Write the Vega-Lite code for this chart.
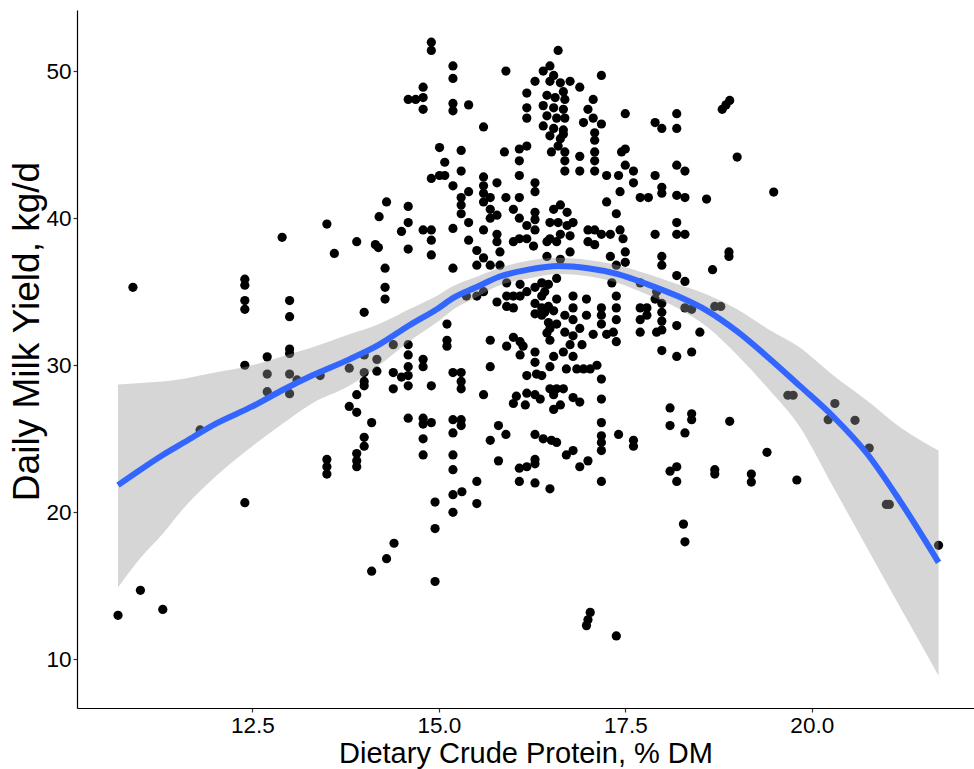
{
 "$schema": "https://vega.github.io/schema/vega-lite/v6.json",
 "width": 897,
 "height": 698,
 "autosize": {"type": "none"},
 "padding": {"left": 77, "top": 10, "right": 0, "bottom": 61},
 "background": "white",
 "config": {
  "view": {"stroke": null},
  "axis": {
   "grid": false,
   "domainColor": "black",
   "domainWidth": 1.2,
   "tickColor": "#333333",
   "tickSize": 4,
   "tickWidth": 1.2,
   "labelFont": "Liberation Sans",
   "labelFontSize": 22.5,
   "labelColor": "black",
   "labelFlush": false,
   "labelPadding": 2,
   "titleFont": "Liberation Sans",
   "titleFontWeight": "normal",
   "titleColor": "black"
  }
 },
 "datasets": {
  "pts": [
   {"x":10.90,"y":35.3},{"x":12.40,"y":35.85},{"x":12.40,"y":35.44},{"x":12.40,"y":34.4},{"x":12.40,"y":33.8},{"x":12.40,"y":30.0},{"x":12.40,"y":20.66},
   {"x":13.0,"y":34.4},{"x":13.0,"y":33.3},{"x":13.0,"y":31.1},{"x":13.0,"y":30.8},{"x":12.70,"y":30.57},{"x":12.70,"y":29.4},{"x":12.70,"y":28.2},{"x":13.0,"y":29.4},{"x":13.0,"y":28.07},{"x":13.1,"y":29.0},{"x":13.41,"y":29.3},{"x":11.80,"y":25.6},{"x":11.0,"y":14.7},{"x":11.30,"y":13.4},{"x":10.70,"y":13.0},
   {"x":12.90,"y":38.7},{"x":13.50,"y":39.6},{"x":13.60,"y":37.6},{"x":13.90,"y":38.4},{"x":14.15,"y":38.2},{"x":14.19,"y":38.0},{"x":14.2,"y":40.1},{"x":14.28,"y":36.6},{"x":14.28,"y":35.3},{"x":14.28,"y":34.5},{"x":14.0,"y":33.6},{"x":14.3,"y":41.1},{"x":14.50,"y":39.1},{"x":14.39,"y":31.4},{"x":14.0,"y":30.7},{"x":14.17,"y":30.4},{"x":13.80,"y":29.8},{"x":14.0,"y":29.5},{"x":14.0,"y":28.9},{"x":14.0,"y":28.6},{"x":14.17,"y":29.6},{"x":14.39,"y":29.5},{"x":14.39,"y":28.4},{"x":13.90,"y":28.0},{"x":13.80,"y":27.2},{"x":13.90,"y":26.8},{"x":14.1,"y":26.1},{"x":14.0,"y":25.1},{"x":14.0,"y":24.5},{"x":13.90,"y":24.0},{"x":13.90,"y":23.5},{"x":13.90,"y":23.1},{"x":13.50,"y":23.6},{"x":13.50,"y":23.1},{"x":13.50,"y":22.6},{"x":14.40,"y":17.9},{"x":14.30,"y":16.85},{"x":14.1,"y":16.0},
   {"x":14.90,"y":51.96},{"x":14.90,"y":51.40},{"x":15.19,"y":50.35},{"x":15.19,"y":49.5},{"x":15.90,"y":50.0},
   {"x":14.79,"y":48.9},{"x":14.79,"y":48.2},{"x":14.79,"y":47.4},{"x":14.59,"y":48.07},{"x":14.69,"y":48.07},
   {"x":15.19,"y":47.8},{"x":15.19,"y":47.3},{"x":15.40,"y":47.7},{"x":15.60,"y":46.2},
   {"x":15.01,"y":44.8},{"x":15.30,"y":44.6},{"x":15.08,"y":43.8},{"x":15.30,"y":43.2},
   {"x":14.90,"y":42.7},{"x":15.01,"y":42.9},{"x":15.08,"y":42.9},{"x":15.19,"y":42.2},{"x":15.40,"y":41.8},
   {"x":15.30,"y":41.4},{"x":15.30,"y":40.9},{"x":15.30,"y":40.3},{"x":14.59,"y":40.8},{"x":14.59,"y":39.7},
   {"x":14.79,"y":39.2},{"x":14.90,"y":39.2},{"x":14.90,"y":38.5},{"x":14.90,"y":37.5},{"x":14.59,"y":37.9},{"x":15.19,"y":39.3},{"x":15.40,"y":39.7},{"x":15.40,"y":38.5},{"x":15.19,"y":36.6},
   {"x":15.60,"y":42.8},{"x":15.60,"y":42.2},{"x":15.60,"y":41.7},{"x":15.60,"y":41.1},{"x":15.78,"y":42.4},{"x":15.69,"y":41.4},{"x":15.69,"y":40.6},{"x":15.69,"y":40.0},{"x":15.60,"y":39.2},{"x":15.78,"y":40.2},{"x":15.78,"y":38.9},{"x":15.78,"y":38.4},{"x":15.90,"y":41.4},
   {"x":16.08,"y":41.4},{"x":16.00,"y":40.6},{"x":16.08,"y":40.0},{"x":16.08,"y":38.6},{"x":15.88,"y":44.5},{"x":16.08,"y":44.7},{"x":16.08,"y":43.9},{"x":16.08,"y":42.9},{"x":16.18,"y":44.9},{"x":16.29,"y":42.4},{"x":16.29,"y":41.8},
   {"x":16.18,"y":48.5},{"x":16.18,"y":47.5},{"x":16.18,"y":46.8},{"x":16.29,"y":49.3},
   {"x":16.29,"y":40.4},{"x":16.29,"y":39.9},{"x":16.18,"y":39.5},{"x":16.29,"y":39.2},{"x":16.18,"y":38.6},{"x":16.00,"y":38.4},{"x":16.27,"y":38.1},
   {"x":15.51,"y":37.8},{"x":15.60,"y":37.3},{"x":15.82,"y":37.7},{"x":15.51,"y":36.8},{"x":15.69,"y":36.8},{"x":15.82,"y":36.8},
   {"x":15.37,"y":34.7},{"x":15.51,"y":34.7},{"x":15.60,"y":35.0},{"x":15.78,"y":34.3},{"x":15.91,"y":35.6},{"x":15.91,"y":34.7},{"x":15.91,"y":34.0},{"x":16.0,"y":34.7},{"x":16.09,"y":34.7},{"x":16.0,"y":33.9},{"x":16.09,"y":35.5},{"x":16.18,"y":35.0},{"x":16.29,"y":35.3},{"x":16.29,"y":34.2},{"x":16.29,"y":33.5},{"x":16.47,"y":35.5},{"x":16.47,"y":34.0},{"x":16.47,"y":32.9},{"x":16.54,"y":33.7},{"x":16.58,"y":32.8},{"x":16.45,"y":32.2},
   {"x":16.0,"y":31.9},{"x":16.09,"y":31.6},{"x":16.13,"y":31.3},{"x":15.91,"y":31.3},{"x":16.09,"y":30.7},{"x":16.29,"y":30.9},{"x":16.29,"y":30.2},{"x":16.18,"y":29.3},{"x":16.31,"y":29.4},{"x":16.38,"y":29.3},{"x":16.49,"y":29.9},{"x":16.18,"y":28.1},{"x":16.04,"y":27.9},{"x":16.0,"y":27.4},{"x":16.16,"y":27.3},{"x":16.29,"y":28.0},{"x":16.36,"y":27.7},{"x":16.54,"y":28.0},{"x":16.54,"y":27.0},
   {"x":14.59,"y":31.4},{"x":14.59,"y":30.7},{"x":14.59,"y":29.9},{"x":14.59,"y":29.3},{"x":14.59,"y":28.6},{"x":14.50,"y":29.2},{"x":14.79,"y":30.4},{"x":14.79,"y":29.9},{"x":14.90,"y":28.6},
   {"x":15.11,"y":32.8},{"x":15.11,"y":31.7},{"x":15.11,"y":31.3},{"x":15.19,"y":29.5},{"x":15.30,"y":29.5},{"x":15.30,"y":28.9},{"x":15.30,"y":28.4},
   {"x":14.59,"y":26.4},{"x":14.79,"y":26.4},{"x":14.79,"y":26.0},{"x":14.90,"y":26.1},{"x":14.79,"y":25.0},{"x":14.79,"y":23.9},
   {"x":15.19,"y":26.3},{"x":15.30,"y":26.3},{"x":15.19,"y":25.4},{"x":15.30,"y":25.9},{"x":15.19,"y":23.9},{"x":15.19,"y":22.9},{"x":15.60,"y":28.0},{"x":15.69,"y":31.7},{"x":15.69,"y":29.9},
   {"x":15.80,"y":25.9},{"x":15.90,"y":25.3},{"x":15.69,"y":24.9},{"x":15.80,"y":23.5},{"x":15.51,"y":22.1},{"x":15.51,"y":20.6},{"x":15.31,"y":21.4},{"x":15.19,"y":21.2},{"x":15.19,"y":20.0},
   {"x":14.95,"y":20.7},{"x":14.95,"y":18.9},{"x":14.95,"y":15.3},
   {"x":16.08,"y":23.0},{"x":16.18,"y":23.1},{"x":16.29,"y":23.6},{"x":16.29,"y":23.3},{"x":16.08,"y":22.1},{"x":16.29,"y":22.0},{"x":16.51,"y":24.9},{"x":16.29,"y":25.3},
   {"x":16.60,"y":51.4},
   {"x":16.49,"y":50.35},{"x":16.40,"y":50.0},{"x":16.54,"y":49.7},{"x":16.49,"y":49.3},{"x":16.63,"y":49.2},{"x":16.76,"y":49.3},{"x":16.89,"y":48.9},{"x":16.67,"y":48.6},{"x":16.45,"y":48.35},{"x":16.56,"y":48.2},{"x":16.69,"y":48.07},{"x":16.40,"y":47.65},{"x":16.54,"y":47.5},{"x":16.67,"y":47.4},{"x":16.45,"y":46.96},{"x":16.58,"y":46.8},{"x":16.69,"y":46.8},{"x":16.40,"y":46.27},{"x":16.54,"y":46.1},{"x":16.67,"y":46.0},{"x":16.49,"y":45.6},{"x":16.63,"y":45.4},{"x":16.67,"y":45.7},{"x":16.51,"y":44.5},{"x":16.60,"y":44.9},{"x":16.69,"y":44.5},{"x":16.69,"y":43.9},{"x":16.69,"y":43.2},
   {"x":17.18,"y":49.7},
   {"x":17.07,"y":48.07},{"x":17.0,"y":47.4},{"x":16.94,"y":46.5},{"x":17.07,"y":46.8},{"x":17.18,"y":46.4},{"x":17.09,"y":45.8},{"x":17.09,"y":45.3},{"x":17.09,"y":44.5},{"x":17.09,"y":43.9},{"x":17.09,"y":43.2},{"x":16.89,"y":44.2},{"x":16.89,"y":43.2},{"x":17.25,"y":42.9},{"x":17.41,"y":42.9},{"x":17.43,"y":41.8},{"x":17.50,"y":43.6},{"x":17.50,"y":44.7},{"x":17.45,"y":44.5},{"x":17.61,"y":43.2},{"x":17.61,"y":42.4},{"x":17.70,"y":41.4},{"x":17.81,"y":41.4},{"x":17.90,"y":42.9},{"x":17.99,"y":42.1},{"x":17.99,"y":41.7},{"x":18.19,"y":43.6},{"x":18.30,"y":43.2},{"x":18.19,"y":41.55},{"x":18.30,"y":41.4},{"x":18.59,"y":41.3},{"x":18.19,"y":39.7},{"x":18.19,"y":38.9},{"x":18.30,"y":38.9},{"x":17.90,"y":38.9},{"x":17.50,"y":47.1},{"x":17.90,"y":46.5},{"x":17.99,"y":46.1},{"x":18.19,"y":47.1},{"x":18.19,"y":46.1},
   {"x":16.54,"y":40.6},{"x":16.63,"y":40.9},{"x":16.72,"y":40.4},{"x":16.49,"y":39.7},{"x":16.60,"y":39.7},{"x":16.72,"y":39.5},{"x":16.80,"y":39.7},{"x":16.49,"y":38.6},{"x":16.63,"y":38.9},{"x":16.76,"y":38.8},{"x":16.45,"y":38.4},{"x":16.58,"y":38.4},{"x":17.0,"y":39.2},{"x":17.09,"y":39.2},{"x":17.18,"y":38.9},{"x":17.0,"y":38.4},{"x":17.09,"y":38.2},{"x":17.30,"y":38.9},{"x":17.43,"y":39.2},{"x":17.47,"y":38.6},{"x":17.38,"y":40.3},{"x":17.25,"y":41.1},
   {"x":16.45,"y":37.4},{"x":16.63,"y":37.2},{"x":16.76,"y":37.7},{"x":17.30,"y":37.4},{"x":17.38,"y":36.8},{"x":17.50,"y":37.7},{"x":17.99,"y":37.4},{"x":17.99,"y":36.8},{"x":18.19,"y":36.1},{"x":18.30,"y":35.7},{"x":17.32,"y":35.6},{"x":17.50,"y":37.0},
   {"x":16.38,"y":35.6},{"x":16.38,"y":34.7},{"x":16.38,"y":33.9},{"x":16.38,"y":33.4},{"x":16.42,"y":35.0},{"x":16.42,"y":33.6},{"x":16.58,"y":35.9},{"x":16.58,"y":34.5},{"x":16.80,"y":34.7},{"x":16.80,"y":33.9},{"x":16.98,"y":34.5},{"x":16.98,"y":33.4},{"x":16.80,"y":33.1},{"x":16.69,"y":33.4},{"x":16.69,"y":32.25},{"x":16.80,"y":32.0},{"x":16.89,"y":32.5},{"x":16.92,"y":31.4},{"x":16.76,"y":31.4},{"x":16.49,"y":32.5},{"x":16.49,"y":31.7},{"x":16.54,"y":30.6},{"x":16.67,"y":30.9},{"x":16.80,"y":30.6},{"x":16.71,"y":29.75},{"x":16.85,"y":29.75},{"x":16.94,"y":29.75},{"x":17.03,"y":29.75},{"x":17.12,"y":30.0},{"x":17.18,"y":29.06},{"x":17.18,"y":27.7},{"x":17.18,"y":26.1},{"x":17.18,"y":25.2},{"x":17.18,"y":24.75},{"x":17.18,"y":24.2},{"x":17.41,"y":25.3},{"x":17.61,"y":24.9},{"x":17.61,"y":24.5},{"x":17.18,"y":22.1},{"x":16.49,"y":21.6},{"x":16.40,"y":25.0},{"x":16.58,"y":24.75},{"x":16.71,"y":23.9},{"x":16.80,"y":24.2},{"x":16.89,"y":23.1},{"x":17.0,"y":23.5},{"x":16.58,"y":28.4},{"x":16.49,"y":28.4},{"x":16.67,"y":28.4},{"x":16.80,"y":27.8},{"x":16.89,"y":27.5},{"x":16.63,"y":27.3},{"x":17.38,"y":34.7},{"x":17.38,"y":33.9},{"x":17.38,"y":33.1},{"x":17.18,"y":33.9},{"x":17.18,"y":33.4},{"x":17.18,"y":32.8},{"x":17.25,"y":32.1},{"x":17.07,"y":32.1},{"x":17.34,"y":32.25},{"x":17.38,"y":31.6},{"x":17.70,"y":35.6},{"x":17.70,"y":33.9},{"x":17.70,"y":33.1},{"x":17.70,"y":32.25},{"x":17.79,"y":33.9},{"x":17.79,"y":33.4},{"x":17.92,"y":35.0},{"x":17.90,"y":34.5},{"x":17.99,"y":34.2},{"x":17.99,"y":33.6},{"x":17.99,"y":33.0},{"x":17.99,"y":32.4},{"x":17.92,"y":32.25},{"x":18.19,"y":32.7},{"x":18.30,"y":33.9},{"x":18.39,"y":33.8},{"x":18.50,"y":32.25},{"x":17.99,"y":31.0},{"x":18.19,"y":30.6},{"x":18.39,"y":30.9},{"x":18.10,"y":27.1},{"x":18.10,"y":25.9},{"x":18.30,"y":25.4},{"x":18.39,"y":26.7},{"x":18.39,"y":26.3},{"x":18.10,"y":22.8},{"x":18.19,"y":23.1},{"x":18.19,"y":22.1},{"x":18.28,"y":19.2},{"x":18.30,"y":18.0},{"x":17.03,"y":13.2},{"x":17.0,"y":12.7},{"x":16.98,"y":12.3},{"x":17.38,"y":11.6},
   {"x":18.8,"y":47.4},{"x":18.85,"y":47.7},{"x":18.9,"y":48.0},{"x":19.0,"y":44.15},{"x":19.49,"y":41.77},{"x":18.89,"y":37.7},{"x":18.89,"y":37.4},{"x":18.67,"y":36.5},{"x":18.7,"y":34.0},{"x":18.78,"y":34.0},
   {"x":18.90,"y":26.19},{"x":19.40,"y":24.08},{"x":18.70,"y":22.9},{"x":18.70,"y":22.6},{"x":19.19,"y":22.6},{"x":19.19,"y":22.06},{"x":19.80,"y":22.2},{"x":19.68,"y":27.96},{"x":19.75,"y":27.96},{"x":20.31,"y":27.4},{"x":20.22,"y":26.3},{"x":20.58,"y":26.26},{"x":20.77,"y":24.37},{"x":21.0,"y":20.54},{"x":21.04,"y":20.54},{"x":21.70,"y":17.76}
  ],
  "fit": [
   {"x":10.70,"fit":21.85,"lo":14.9,"hi":28.7},
   {"x":11.0,"fit":22.9,"lo":16.9,"hi":28.8},
   {"x":11.3,"fit":23.9,"lo":18.55,"hi":28.9},
   {"x":11.6,"fit":24.8,"lo":20.4,"hi":29.1},
   {"x":12.0,"fit":26.0,"lo":22.4,"hi":29.5},
   {"x":12.5,"fit":27.2,"lo":24.5,"hi":30.0},
   {"x":12.9,"fit":28.3,"lo":26.0,"hi":30.6},
   {"x":13.3,"fit":29.3,"lo":27.4,"hi":31.2},
   {"x":13.8,"fit":30.4,"lo":28.6,"hi":32.1},
   {"x":14.2,"fit":31.4,"lo":30.0,"hi":32.8},
   {"x":14.6,"fit":32.7,"lo":31.6,"hi":33.8},
   {"x":15.0,"fit":33.9,"lo":33.0,"hi":34.8},
   {"x":15.2,"fit":34.6,"lo":33.8,"hi":35.4},
   {"x":15.5,"fit":35.3,"lo":34.6,"hi":36.0},
   {"x":15.8,"fit":36.0,"lo":35.4,"hi":36.6},
   {"x":16.2,"fit":36.5,"lo":35.9,"hi":37.1},
   {"x":16.6,"fit":36.75,"lo":36.2,"hi":37.3},
   {"x":17.0,"fit":36.6,"lo":36.05,"hi":37.15},
   {"x":17.4,"fit":36.2,"lo":35.6,"hi":36.8},
   {"x":17.8,"fit":35.5,"lo":34.8,"hi":36.2},
   {"x":18.2,"fit":34.7,"lo":33.9,"hi":35.5},
   {"x":18.6,"fit":33.7,"lo":32.6,"hi":34.8},
   {"x":19.0,"fit":32.3,"lo":30.7,"hi":33.8},
   {"x":19.4,"fit":30.6,"lo":28.5,"hi":32.5},
   {"x":19.84,"fit":28.6,"lo":25.8,"hi":31.2},
   {"x":20.29,"fit":26.5,"lo":21.7,"hi":29.3},
   {"x":20.74,"fit":24.0,"lo":17.6,"hi":27.6},
   {"x":21.18,"fit":20.8,"lo":13.6,"hi":25.8},
   {"x":21.70,"fit":16.6,"lo":8.9,"hi":24.2}
  ]
 },
 "layer": [
  {
   "data": {"name": "pts"},
   "mark": {"type": "circle", "size": 85, "opacity": 1, "color": "black"},
   "encoding": {
    "x": {"field": "x", "type": "quantitative",
     "scale": {"domain": [10.15, 22.175], "nice": false, "zero": false},
     "axis": {"values": [12.5, 15, 17.5, 20], "format": ".1f", "title": "Dietary Crude Protein, % DM", "titleFontSize": 29, "titleBaseline": "alphabetic", "titleY": 54}},
    "y": {"field": "y", "type": "quantitative",
     "scale": {"domain": [6.7, 54.15], "nice": false, "zero": false},
     "axis": {"values": [10, 20, 30, 40, 50], "title": "Daily Milk Yield, kg/d", "titleFontSize": 37, "titleAngle": -90, "titleBaseline": "middle", "titleAlign": "center", "titleX": -50, "titleY": 321}}
   }
  },
  {
   "data": {"name": "fit"},
   "mark": {"type": "area", "color": "#999999", "opacity": 0.4, "interpolate": "monotone"},
   "encoding": {
    "x": {"field": "x", "type": "quantitative"},
    "y": {"field": "lo", "type": "quantitative"},
    "y2": {"field": "hi"}
   }
  },
  {
   "data": {"name": "fit"},
   "mark": {"type": "line", "color": "#3366FF", "strokeWidth": 6, "interpolate": "monotone"},
   "encoding": {
    "x": {"field": "x", "type": "quantitative"},
    "y": {"field": "fit", "type": "quantitative"}
   }
  }
 ]
}
